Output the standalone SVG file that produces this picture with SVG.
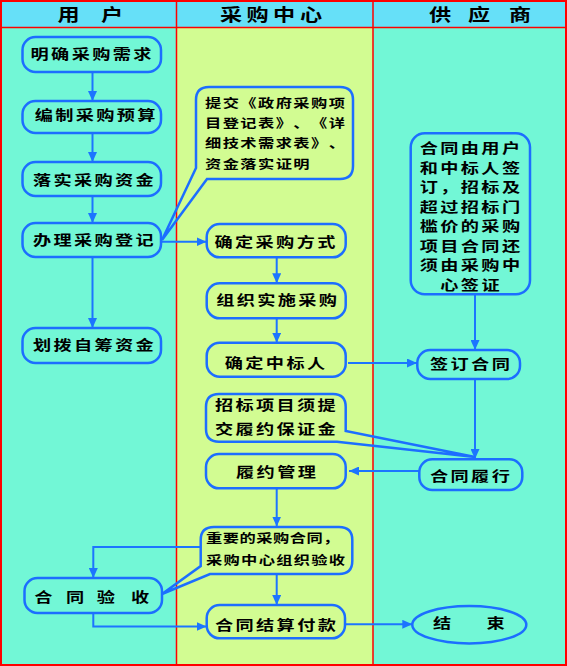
<svg xmlns="http://www.w3.org/2000/svg" width="567" height="666" viewBox="0 0 567 666">
<style>
.bg1{fill:#72F7D6}
.bg2{fill:#D2FC92}
.hd{fill:#66E0F8}
.red{stroke:#FF0000;stroke-width:1.5;fill:none}
.n{fill:none;stroke:#1C6EFF;stroke-width:2.5}
.c{stroke:#1C75FF;stroke-width:2;fill:none}
text{text-spacing-trim:space-all}
.t{font-family:"Noto Sans CJK SC","Noto Sans",sans-serif;font-weight:700;font-size:14px;letter-spacing:1.8px;fill:#000;text-anchor:middle}
.s{font-family:"Noto Sans CJK SC","Noto Sans",sans-serif;font-weight:700;font-size:12.5px;letter-spacing:1.1px;fill:#000}
.ls{text-anchor:start}
.h{font-family:"Noto Sans CJK SC","Noto Sans",sans-serif;font-weight:700;font-size:17px;fill:#000;text-anchor:middle}
.z{letter-spacing:0}
</style>
<defs>
<marker id="ah" markerUnits="userSpaceOnUse" markerWidth="11" markerHeight="9" refX="10" refY="4.5" orient="auto">
<path d="M0,0 L10,4.5 L0,9 Z" fill="#1C75FF"/>
</marker>
</defs>
<g id="background">
<rect class="bg1" x="0" y="0" width="177" height="666"/>
<rect class="bg2" x="177" y="0" width="196" height="666"/>
<rect class="bg1" x="373" y="0" width="194" height="666"/>
<rect class="hd" x="0" y="0" width="567" height="27"/>
<line class="red" x1="0" y1="27.5" x2="567" y2="27.5"/>
<line class="red" x1="176.5" y1="0" x2="176.5" y2="666"/>
<line class="red" x1="373" y1="0" x2="373" y2="666"/>
<rect x="1" y="1" width="565" height="664" fill="none" stroke="#FF0000" stroke-width="2"/>
</g>
<g id="headers">
<text class="h" transform="scale(1.3 1)" x="52.8 69.5 86.2" y="20.7">用 户</text>
<text class="h" transform="scale(1.3 1)" x="177.7 198.1 218.5 239.2" y="20.7">采购中心</text>
<text class="h" transform="scale(1.3 1)" x="338.5 353.5 368.5 384.2 400" y="20.7">供 应 商</text>
</g>
<g id="connectors">
<line class="c" x1="92.5" y1="72" x2="92.5" y2="101" marker-end="url(#ah)"/>
<line class="c" x1="92.5" y1="133" x2="92.5" y2="162" marker-end="url(#ah)"/>
<line class="c" x1="92.5" y1="196" x2="92.5" y2="223" marker-end="url(#ah)"/>
<line class="c" x1="92.5" y1="257" x2="92.5" y2="328" marker-end="url(#ah)"/>
<line class="c" x1="161" y1="241.7" x2="206.5" y2="241.7" marker-end="url(#ah)"/>
<line class="c" x1="276.7" y1="257.3" x2="276.7" y2="283.3" marker-end="url(#ah)"/>
<line class="c" x1="276.7" y1="318.3" x2="276.7" y2="342.7" marker-end="url(#ah)"/>
<line class="c" x1="348" y1="363" x2="417" y2="363" marker-end="url(#ah)"/>
<line class="c" x1="475" y1="294.3" x2="475" y2="350" marker-end="url(#ah)"/>
<line class="c" x1="475" y1="379" x2="475" y2="459" marker-end="url(#ah)"/>
<line class="c" x1="419.3" y1="471" x2="349" y2="471" marker-end="url(#ah)"/>
<line class="c" x1="276.7" y1="488.3" x2="276.7" y2="526.5" marker-end="url(#ah)"/>
<polyline class="c" points="200.7,547 93.3,547 93.3,578" marker-end="url(#ah)"/>
<line class="c" x1="276.7" y1="574" x2="276.7" y2="605" marker-end="url(#ah)"/>
<polyline class="c" points="93.3,613 93.3,626.5 206.5,626.5" marker-end="url(#ah)"/>
<line class="c" x1="345" y1="624.3" x2="412.3" y2="624.3" marker-end="url(#ah)"/>
</g>
<g id="n-mingque">
<rect class="n" x="22.5" y="37" width="138.5" height="35" rx="13"/>
<text class="t" transform="scale(1.3 1)" x="70.9" y="59.5">明确采购需求</text>
</g>
<g id="n-bianzhi">
<rect class="n" x="22.5" y="101" width="138.5" height="32" rx="13"/>
<text class="t" transform="scale(1.3 1)" x="74" y="120.3">编制采购预算</text>
</g>
<g id="n-luoshi">
<rect class="n" x="22.5" y="162" width="138.5" height="34" rx="13"/>
<text class="t" transform="scale(1.3 1)" x="72.7" y="184.6">落实采购资金</text>
</g>
<g id="n-banli">
<rect class="n" x="22.5" y="223" width="138.5" height="34" rx="13"/>
<text class="t" transform="scale(1.3 1)" x="72.7" y="245.3">办理采购登记</text>
</g>
<g id="n-huabo">
<rect class="n" x="22.5" y="328" width="138.5" height="35" rx="13"/>
<text class="t" transform="scale(1.3 1)" x="72.7" y="350.3">划拨自筹资金</text>
</g>
<g id="n-yanshou">
<rect class="n" x="24.5" y="578" width="137.5" height="35" rx="13"/>
<text class="t z" transform="scale(1.3 1)" x="33.4 45.5 57.7 69.6 81.5 94.6 107.7" y="602">合 同 验 收</text>
</g>
<g id="callout-tijiao">
<path class="n" d="M207,179 L340,179 Q353,179 353,166 L353,100 Q353,87 340,87 L209,87 Q196,87 196,100 L196,168 L162,240 Z"/>
<text class="s ls" transform="scale(1.3 1)" x="157.7" y="108">提交《政府采购项</text>
<text class="s ls" transform="scale(1.3 1)" x="157.7" y="128">目登记表》、《详</text>
<text class="s ls" transform="scale(1.3 1)" x="157.7" y="148">细技术需求表》、</text>
<text class="s ls" transform="scale(1.3 1)" x="157.7" y="168.7">资金落实证明</text>
</g>
<g id="n-fangshi">
<rect class="n" x="206.7" y="224" width="139" height="33.3" rx="13"/>
<text class="t" transform="scale(1.3 1)" x="212.4" y="247">确定采购方式</text>
</g>
<g id="n-zuzhi">
<rect class="n" x="206.7" y="283.3" width="139" height="35" rx="13"/>
<text class="t" transform="scale(1.3 1)" x="213.7" y="305.3">组织实施采购</text>
</g>
<g id="n-zhongbiao">
<rect class="n" x="206.7" y="342.7" width="139" height="34" rx="13"/>
<text class="t" transform="scale(1.3 1)" x="212.4" y="368">确定中标人</text>
</g>
<g id="callout-baozheng">
<path class="n" d="M337,441.7 L219,441.7 Q206,441.7 206,429 L206,407 Q206,394 219,394 L333,394 Q345.7,394 345.7,407 L345.7,431 L475,457 Z"/>
<text class="t ls" transform="scale(1.3 1)" x="165.4" y="410.3">招标项目须提</text>
<text class="t ls" transform="scale(1.3 1)" x="165.4" y="433.6">交履约保证金</text>
</g>
<g id="n-lvyue">
<rect class="n" x="206" y="454" width="139.7" height="34.3" rx="13"/>
<text class="t" transform="scale(1.3 1)" x="213.2" y="477">履约管理</text>
</g>
<g id="callout-zhongyao">
<path class="n" d="M210,574 L339,574 Q352.3,574 352.3,561 L352.3,540 Q352.3,527 339,527 L214,527 Q200.7,527 200.7,540 L200.7,566 L162,594 Z"/>
<text class="s ls" style="letter-spacing:0.4px" transform="scale(1.3 1)" x="158.5" y="543">重要的采购合同，</text>
<text class="s ls" style="letter-spacing:1px" transform="scale(1.3 1)" x="158.5" y="564.7">采购中心组织验收</text>
</g>
<g id="n-jiesuan">
<rect class="n" x="206.7" y="605" width="138.3" height="33.3" rx="13"/>
<text class="t" transform="scale(1.3 1)" x="212.8" y="629.6">合同结算付款</text>
</g>
<g id="n-note">
<rect class="n" x="410.7" y="133.3" width="119.3" height="161" rx="14"/>
<text class="t" transform="scale(1.3 1)" x="362.4" y="153.3">合同由用户</text>
<text class="t" transform="scale(1.3 1)" x="362.4" y="172.8">和中标人签</text>
<text class="t" transform="scale(1.3 1)" x="362.4" y="192.3">订，招标及</text>
<text class="t" transform="scale(1.3 1)" x="362.4" y="211.8">超过招标门</text>
<text class="t" transform="scale(1.3 1)" x="362.4" y="231.3">槛价的采购</text>
<text class="t" transform="scale(1.3 1)" x="362.4" y="250.8">项目合同还</text>
<text class="t" transform="scale(1.3 1)" x="362.4" y="270.3">须由采购中</text>
<text class="t" transform="scale(1.3 1)" x="362.4" y="289.8">心签证</text>
</g>
<g id="n-qianding">
<rect class="n" x="417.3" y="350" width="102.7" height="29" rx="13"/>
<text class="t" transform="scale(1.3 1)" x="362.4" y="369.3">签订合同</text>
</g>
<g id="n-lvxing">
<rect class="n" x="419.3" y="459.3" width="103" height="30.7" rx="13"/>
<text class="t" transform="scale(1.3 1)" x="362.4" y="481.3">合同履行</text>
</g>
<g id="n-end">
<ellipse class="n" cx="469.3" cy="624.7" rx="57" ry="18.7"/>
<text class="t z" transform="scale(1.3 1)" x="340 360.6 381.2" y="628.3">结 束</text>
</g>
</svg>
